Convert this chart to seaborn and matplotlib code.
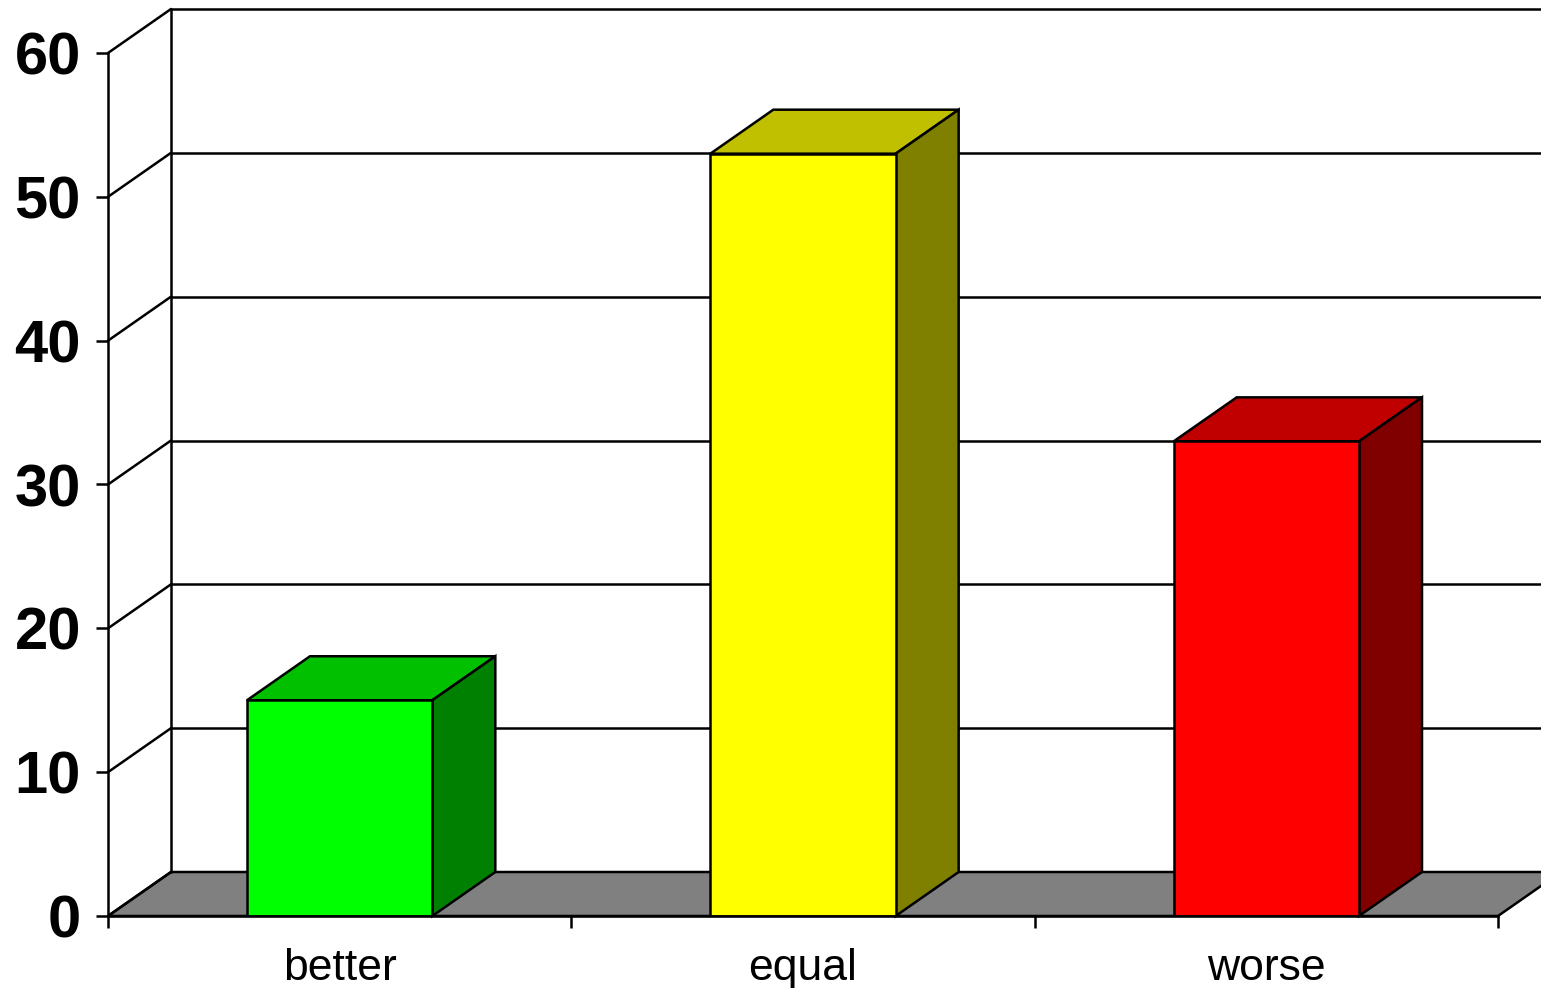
import matplotlib
matplotlib.use('Agg')
import matplotlib.pyplot as plt
from matplotlib.patches import Polygon
import pandas as pd
import seaborn as sns

categories = ['better', 'equal', 'worse']
values = [15, 53, 33]
front_colors = ['#00ff00', '#ffff00', '#ff0000']
top_colors = ['#00c000', '#c0c000', '#c00000']
side_colors = ['#008000', '#808000', '#800000']
y_ticks = [0, 10, 20, 30, 40, 50, 60]

sns.set_style('white')
plt.rcParams['font.family'] = ['Liberation Sans', 'DejaVu Sans']

W, H = 1541, 988
fig = plt.figure(figsize=(W / 100, H / 100), dpi=100)
ax = fig.add_axes([108 / W, (H - 916) / H, (1498 - 108) / W, (916 - 53) / H])

lw = 1.8
df = pd.DataFrame({'cat': categories, 'val': values})
sns.barplot(data=df, x='cat', y='val', hue='cat', palette=front_colors, saturation=1, width=0.4,
            edgecolor='black', linewidth=lw, legend=False, ax=ax, zorder=5)
ax.set_xlim(-0.5, 2.5)
ax.set_ylim(0, 60)

# depth of the fake 3d box
dx = 63 / ((1498 - 108) / 3)
dy = 44 / ((916 - 53) / 60)
xl, xr = -0.5, 2.5
x_edge = xl + (1541 - 108) / ((1498 - 108) / 3)

# floor
floor = Polygon([(xl, 0), (xl + dx, dy), (xr + dx, dy), (xr, 0)], closed=True,
                facecolor='#808080', edgecolor='black', linewidth=lw, clip_on=False, zorder=1)
ax.add_patch(floor)

# back wall and side wall lines
for t in y_ticks:
    ax.plot([xl, xl + dx], [t, t + dy], color='black', lw=lw, clip_on=False, zorder=2)
    if t > 0:
        ax.plot([xl + dx, x_edge], [t + dy, t + dy], color='black', lw=lw, clip_on=False, zorder=2)
ax.plot([xl + dx, xl + dx], [dy, 60 + dy], color='black', lw=lw, clip_on=False, zorder=2)

# top and side of each bar
for i, v in enumerate(values):
    x0, x1 = i - 0.2, i + 0.2
    ax.add_patch(Polygon([(x0, v), (x0 + dx, v + dy), (x1 + dx, v + dy), (x1, v)], closed=True,
                         facecolor=top_colors[i], edgecolor='black', linewidth=lw, clip_on=False, zorder=4))
    ax.add_patch(Polygon([(x1, 0), (x1 + dx, dy), (x1 + dx, v + dy), (x1, v)], closed=True,
                         facecolor=side_colors[i], edgecolor='black', linewidth=lw, clip_on=False, zorder=4))

for s in ['top', 'right']:
    ax.spines[s].set_visible(False)
for s in ['left', 'bottom']:
    ax.spines[s].set_linewidth(lw)
    ax.spines[s].set_color('black')
    ax.spines[s].set_zorder(6)

ax.set_yticks(y_ticks)
ax.set_yticklabels([str(t) for t in y_ticks], fontsize=43, fontweight='bold', color='black')
ax.tick_params(axis='y', length=8.5, width=lw, pad=11, left=True, color='black')
ax.set_xticks([-0.5, 0.5, 1.5, 2.5], minor=False)
ax.set_xticklabels([])
ax.tick_params(axis='x', length=8.5, width=lw, bottom=True, color='black')
for i, c in enumerate(categories):
    ax.annotate(c, (i, 0), xytext=(0, -52), textcoords='offset pixels', ha='center', va='center',
                fontsize=32, color='black', annotation_clip=False)
ax.set_xlabel('')
ax.set_ylabel('')

fig.savefig('out.png', dpi=100)
